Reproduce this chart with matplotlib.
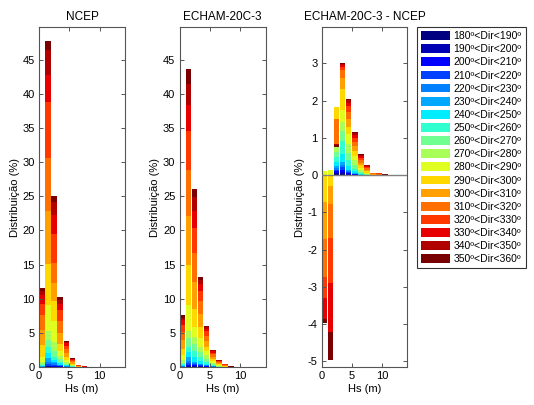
#!/usr/bin/env python3
"""
Hs histograms stacked by wave direction sector: NCEP, ECHAM-20C-3 and
their difference, with a shared direction legend.
"""

import numpy as np
import matplotlib.pyplot as plt
from matplotlib.patches import Patch

plt.rcParams['font.family'] = ['Liberation Sans', 'DejaVu Sans']
plt.rcParams['axes.unicode_minus'] = False

# direction sectors (lower edge, degrees)
dir_edges = [180, 190, 200, 210, 220, 230, 240, 250, 260,
             270, 280, 290, 300, 310, 320, 330, 340, 350]
dir_labels = ['%d\u00ba<Dir<%d\u00ba' % (d, d + 10) for d in dir_edges]

# jet-like palette, one colour per sector
dir_colors = ['#000080', '#0000b4', '#0000ff', '#0040ff', '#0080ff', '#00a8ff',
              '#00ecff', '#30ffd0', '#70ff90', '#a8ff58', '#e0ff20', '#ffd800',
              '#ffa000', '#ff7000', '#ff3800', '#e80000', '#b00000', '#780000']

# one row per Hs bin (0-1 m, 1-2 m, ...), one column per direction sector (%)
ncep = [
    [0.00, 0.00, 0.01, 0.01, 0.02, 0.04, 0.07, 0.10, 0.15, 0.30, 0.80, 1.70, 2.20, 2.20, 1.70, 1.20, 0.60, 0.40],
    [0.03, 0.07, 0.10, 0.20, 0.40, 0.50, 0.70, 0.90, 1.00, 1.30, 3.90, 6.00, 7.80, 7.70, 8.20, 3.90, 3.70, 1.40],
    [0.02, 0.05, 0.10, 0.15, 0.20, 0.25, 0.30, 0.43, 0.90, 1.30, 3.10, 2.80, 2.70, 3.00, 4.20, 2.80, 1.90, 0.90],
    [0.02, 0.03, 0.05, 0.07, 0.08, 0.10, 0.20, 0.25, 0.40, 0.40, 0.70, 1.10, 1.60, 1.80, 1.50, 1.00, 0.45, 0.45],
    [0.01, 0.01, 0.02, 0.03, 0.04, 0.04, 0.10, 0.10, 0.15, 0.20, 0.30, 0.40, 0.60, 0.60, 0.50, 0.35, 0.20, 0.15],
    [0.00, 0.00, 0.01, 0.01, 0.01, 0.01, 0.03, 0.04, 0.05, 0.07, 0.10, 0.13, 0.20, 0.20, 0.18, 0.12, 0.08, 0.05],
    [0.00, 0.00, 0.00, 0.00, 0.00, 0.00, 0.00, 0.00, 0.00, 0.00, 0.00, 0.03, 0.05, 0.07, 0.08, 0.06, 0.04, 0.02],
    [0.00, 0.00, 0.00, 0.00, 0.00, 0.00, 0.00, 0.00, 0.00, 0.00, 0.00, 0.00, 0.00, 0.03, 0.04, 0.04, 0.03, 0.01],
]

echam = [
    [0.01, 0.01, 0.01, 0.02, 0.04, 0.06, 0.10, 0.15, 0.25, 0.35, 0.70, 1.00, 1.20, 1.20, 1.00, 0.80, 0.35, 0.35],
    [0.05, 0.10, 0.15, 0.30, 0.30, 0.60, 0.70, 0.80, 1.25, 1.05, 3.80, 5.80, 7.20, 6.80, 5.60, 3.90, 3.10, 2.20],
    [0.05, 0.08, 0.12, 0.15, 0.20, 0.20, 0.65, 0.85, 1.10, 1.00, 1.45, 2.65, 4.00, 4.20, 3.70, 2.50, 2.00, 1.10],
    [0.03, 0.05, 0.07, 0.10, 0.12, 0.13, 0.40, 0.60, 0.70, 0.80, 1.20, 1.60, 2.00, 1.90, 1.50, 1.00, 0.50, 0.50],
    [0.02, 0.03, 0.05, 0.06, 0.07, 0.07, 0.20, 0.30, 0.40, 0.50, 0.60, 0.70, 0.80, 0.80, 0.60, 0.40, 0.20, 0.15],
    [0.01, 0.01, 0.02, 0.02, 0.02, 0.02, 0.10, 0.10, 0.15, 0.20, 0.25, 0.30, 0.30, 0.35, 0.25, 0.20, 0.12, 0.08],
    [0.00, 0.00, 0.00, 0.00, 0.00, 0.00, 0.02, 0.04, 0.05, 0.07, 0.10, 0.12, 0.15, 0.15, 0.12, 0.09, 0.06, 0.03],
    [0.00, 0.00, 0.00, 0.00, 0.00, 0.00, 0.00, 0.00, 0.00, 0.02, 0.04, 0.06, 0.08, 0.09, 0.08, 0.06, 0.04, 0.03],
    [0.00, 0.00, 0.00, 0.00, 0.00, 0.00, 0.00, 0.00, 0.00, 0.00, 0.00, 0.00, 0.00, 0.00, 0.00, 0.03, 0.04, 0.03],
]

diff = [
    [0.01, 0.01, 0.01, 0.01, 0.01, 0.01, 0.01, 0.02, 0.01, 0.00, -0.10, -0.72, -0.99, -1.01, -0.58, -0.57, 0.00, -0.11],
    [0.00, 0.00, 0.02, 0.05, 0.05, 0.03, 0.00, 0.00, 0.00, 0.00, -0.15, -0.29, -0.47, -0.93, -1.21, -1.30, 0.00, -0.77],
    [0.02, 0.03, 0.05, 0.05, 0.05, 0.05, 0.10, 0.15, 0.12, 0.13, 1.08, -0.33, 0.00, -0.65, 0.00, 0.00, -0.03, -0.07],
    [0.03, 0.05, 0.07, 0.07, 0.06, 0.07, 0.22, 0.36, 0.27, 0.22, 0.32, 0.58, 0.28, 0.22, 0.08, 0.05, 0.03, 0.02],
    [0.01, 0.02, 0.03, 0.03, 0.03, 0.03, 0.10, 0.15, 0.20, 0.25, 0.25, 0.20, 0.20, 0.20, 0.15, 0.10, 0.07, 0.03],
    [0.005, 0.005, 0.01, 0.01, 0.01, 0.01, 0.05, 0.08, 0.10, 0.12, 0.12, 0.13, 0.13, 0.12, 0.10, 0.08, 0.05, 0.02],
    [0.00, 0.00, 0.00, 0.00, 0.00, 0.00, 0.02, 0.03, 0.04, 0.05, 0.06, 0.07, 0.07, 0.07, 0.06, 0.05, 0.03, 0.02],
    [0.00, 0.00, 0.00, 0.00, 0.00, 0.00, 0.00, 0.00, 0.02, 0.02, 0.03, 0.04, 0.04, 0.04, 0.04, 0.03, 0.01, 0.01],
    [0.00, 0.00, 0.00, 0.00, 0.00, 0.00, 0.00, 0.00, 0.00, 0.00, 0.00, 0.00, 0.02, 0.03, 0.02, 0.00, 0.00, 0.00],
    [0.00, 0.00, 0.00, 0.00, 0.00, 0.00, 0.00, 0.00, 0.00, 0.00, 0.00, 0.00, 0.00, 0.03, 0.02, 0.00, 0.00, 0.00],
    [0.00, 0.00, 0.00, 0.00, 0.00, 0.00, 0.00, 0.00, 0.00, 0.00, 0.00, 0.00, 0.00, 0.00, 0.00, 0.00, 0.01, 0.01],
]

titles = ['NCEP', 'ECHAM-20C-3', 'ECHAM-20C-3 - NCEP']


def stacked_bars(ax, table, colors):
    """Stack each direction sector on the running sum (later sectors drawn on top)."""
    vals = np.array(table, dtype=float)
    x = np.arange(vals.shape[0]) + 0.5
    cum = np.zeros(vals.shape[0])
    bars = []
    for j in range(vals.shape[1]):
        b = ax.bar(x, vals[:, j], bottom=cum, width=0.9, color=colors[j],
                   linewidth=0, align='center')
        bars.append(b)
        cum = cum + vals[:, j]
    return bars


def style_axes(ax):
    for sp in ax.spines.values():
        sp.set_color('#555555')
        sp.set_linewidth(0.8)
    ax.tick_params(direction='in', length=3, width=0.7, color='#555555',
                   labelsize=8, top=True, right=True, pad=3)
    ax.set_xlim(0, 14.2)
    ax.set_xticks([0, 5, 10])
    ax.set_xlabel('Hs (m)', fontsize=8, labelpad=2)
    ax.set_ylabel('Distribuição (%)', fontsize=8, labelpad=2)


fig = plt.figure(figsize=(5.34, 4.05), dpi=100)
W, H = 534.0, 405.0

lefts = [39, 179.5, 321.5]
axes = [fig.add_axes([l / W, 1 - 367 / H, 86 / W, 340 / H]) for l in lefts]

for ax, table, title in zip(axes, [ncep, echam, diff], titles):
    bars = stacked_bars(ax, table, dir_colors)
    style_axes(ax)
    ax.set_title(title, fontsize=8.5, pad=5)

for ax in axes[:2]:
    ax.set_ylim(0, 49.8)
    ax.set_yticks(np.arange(0, 50, 5))

axes[2].set_ylim(-5.15, 3.98)
axes[2].set_yticks(np.arange(-5, 4, 1))
axes[2].axhline(0, color='#808080', linewidth=1.0, zorder=3)

handles = [Patch(facecolor=c, edgecolor='none') for c in dir_colors]
leg = fig.legend(handles, dir_labels, loc='upper left',
                 bbox_to_anchor=(417 / W, 1 - 27 / H), borderaxespad=0,
                 fontsize=7.5, frameon=True, fancybox=False,
                 handlelength=2.8, handleheight=0.9, handletextpad=0.3,
                 labelspacing=0.3, borderpad=0.4)
leg.get_frame().set_edgecolor('black')
leg.get_frame().set_linewidth(0.8)

fig.savefig('out.png', dpi=100)
